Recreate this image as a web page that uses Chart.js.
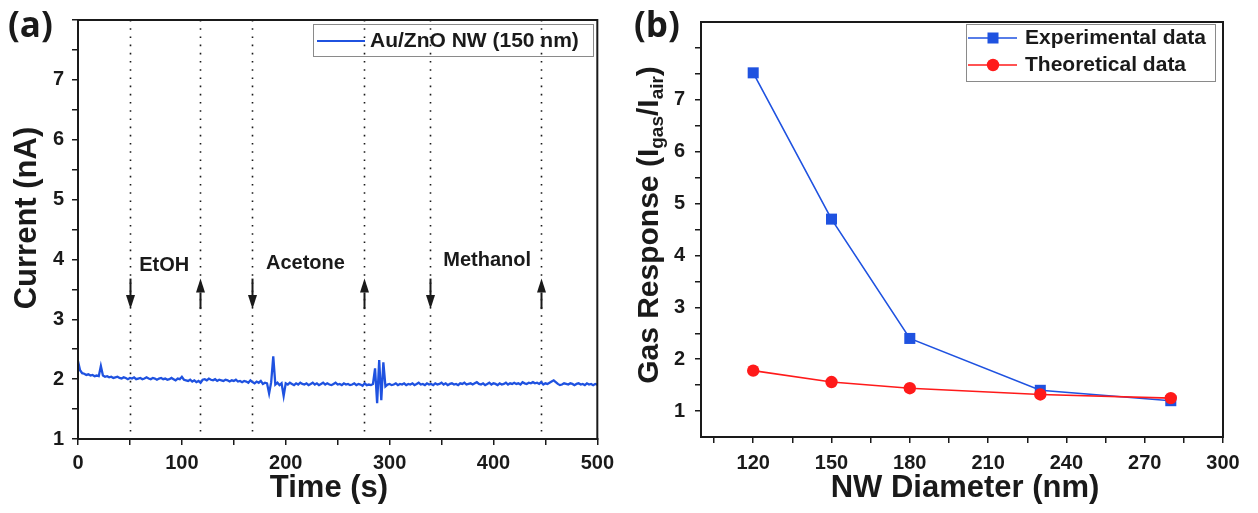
<!DOCTYPE html>
<html>
<head>
<meta charset="utf-8">
<title>Au/ZnO NW gas response</title>
<script src="https://cdn.jsdelivr.net/npm/chart.js@4.4.1/dist/chart.umd.min.js"></script>
<style>
  html, body { margin: 0; padding: 0; background: #fff; }
  #wrap { position: relative; width: 1258px; height: 513px; }
  canvas { position: absolute; top: 0; }
  #chart-a { left: 0; }
  #chart-b { left: 620px; }
</style>
</head>
<body>
<div id="wrap">
  <canvas id="chart-a" width="620" height="513"></canvas>
  <canvas id="chart-b" width="638" height="513"></canvas>
</div>
<script>
/* ---- Data: panel (a) ---- */
const sampleStepS = 2; // one reading every 2 s, 0..500 s
const currentNA = [
  2.30, 2.15, 2.10, 2.09, 2.07, 2.08, 2.06, 2.07, 2.05, 2.06,
  2.05, 2.22, 2.06, 2.04, 2.05, 2.03, 2.04, 2.02, 2.03, 2.04,
  2.02, 2.01, 2.03, 2.02, 2.00, 2.02, 2.01, 2.03, 2.00, 2.01,
  2.02, 2.00, 2.01, 2.03, 2.01, 2.00, 2.02, 2.01, 1.99, 2.01,
  2.02, 2.00, 2.01, 1.99, 2.00, 2.02, 2.00, 1.98, 2.01, 2.00,
  2.04, 1.99, 1.98, 1.97, 1.99, 1.96, 1.98, 1.95, 1.97, 1.94,
  1.99, 2.00, 1.98, 2.01, 1.99, 1.98, 2.00, 1.97, 1.99, 1.98,
  1.97, 1.99, 1.98, 1.96, 1.98, 1.97, 1.99, 1.96, 1.97, 1.95,
  1.97, 1.96, 1.94, 1.98, 1.95, 1.93, 1.96, 1.94, 1.97, 1.92,
  1.94, 1.93, 1.76, 1.95, 2.38, 1.91, 1.94, 1.90, 1.93, 1.72,
  1.93, 1.91, 1.94, 1.92, 1.90, 1.93, 1.91, 1.94, 1.92, 1.91,
  1.93, 1.90, 1.92, 1.94, 1.91, 1.93, 1.90, 1.92, 1.94, 1.91,
  1.93, 1.91, 1.90, 1.92, 1.94, 1.91, 1.92, 1.90, 1.93, 1.91,
  1.92, 1.90, 1.91, 1.93, 1.90, 1.92, 1.91, 1.89, 1.93, 1.90,
  1.91, 1.90, 1.92, 2.18, 1.60, 2.32, 1.65, 2.28, 1.88, 1.91,
  1.92, 1.90, 1.91, 1.93, 1.90, 1.92, 1.91, 1.93, 1.90, 1.92,
  1.91, 1.93, 1.90, 1.92, 1.94, 1.91, 1.92, 1.90, 1.93, 1.91,
  1.92, 1.90, 1.93, 1.91, 1.92, 1.94, 1.91, 1.93, 1.90, 1.92,
  1.93, 1.91, 1.92, 1.90, 1.93, 1.92, 1.94, 1.91, 1.92, 1.93,
  1.91, 1.93, 1.95, 1.92, 1.91, 1.93, 1.90, 1.92, 1.94, 1.91,
  1.93, 1.92, 1.90, 1.93, 1.91, 1.92, 1.94, 1.91, 1.93, 1.92,
  1.94, 1.92, 1.93, 1.91, 1.95, 1.93, 1.92, 1.94, 1.93, 1.95,
  1.93, 1.94, 1.92, 1.95, 1.91, 1.93, 1.92, 1.94, 1.96, 1.98,
  1.95, 1.92, 1.90, 1.91, 1.93, 1.92, 1.91, 1.93, 1.92, 1.90,
  1.92, 1.93, 1.91, 1.92, 1.90, 1.93, 1.91, 1.92, 1.90, 1.92,
  1.91
];
const eventTimes  = [50, 117, 168, 275, 339, 446];       // dotted markers (s)
const eventArrows = ['down', 'up', 'down', 'up', 'down', 'up'];
const gasNames    = ['EtOH', 'Acetone', 'Methanol'];
const xTicksA     = [0, 50, 100, 150, 200, 250, 300, 350, 400, 450, 500];
const yTicksA     = [1, 1.5, 2, 2.5, 3, 3.5, 4, 4.5, 5, 5.5, 6, 6.5, 7, 7.5, 8];
const seriesNameA = 'Au/ZnO NW (150 nm)';

/* ---- Data: panel (b) ---- */
const diametersNm  = [120, 150, 180, 230, 280];
const experimental = [7.52, 4.70, 2.40, 1.40, 1.20];
const theoretical  = [1.78, 1.56, 1.44, 1.32, 1.25];
const xTicksB      = [105, 120, 135, 150, 165, 180, 195, 210, 225, 240, 255, 270, 285, 300];
const xLabelsB     = [120, 150, 180, 210, 240, 270, 300];
const yTicksB      = [1, 1.5, 2, 2.5, 3, 3.5, 4, 4.5, 5, 5.5, 6, 6.5, 7, 7.5, 8];

/* ---- Styles ---- */
const INK   = '#1a1a1a';
const BLUE  = '#1f52e0';
const RED   = '#ff1a1a';
const FONT  = '"Liberation Sans", Arial, sans-serif';
const tickFont = { family: FONT, size: 20, weight: 'bold' };

// where the gas names sit, in data units of panel (a)
const gasLabelPos = [{ x: 83, y: 3.90 }, { x: 219, y: 3.93 }, { x: 394, y: 3.98 }];
const arrowSpan   = { top: 3.68, bottom: 3.17 };

function tickAxis(extra) {
  return Object.assign({
    grid:   { display: true, drawOnChartArea: false, drawTicks: true, tickLength: 6, color: INK, lineWidth: 1.5 },
    border: { display: true, color: INK, width: 2 },
    title:  { display: false },
  }, extra);
}

function drawFrame(ctx, a) {
  ctx.save();
  ctx.strokeStyle = INK;
  ctx.lineWidth = 2;
  ctx.strokeRect(a.left, a.top, a.right - a.left, a.bottom - a.top);
  ctx.restore();
}

function drawArrow(ctx, x, yFrom, yTo) {
  const dir = yTo > yFrom ? 1 : -1;
  const head = 14, half = 4.5;
  ctx.beginPath();
  ctx.moveTo(x, yFrom);
  ctx.lineTo(x, yTo - dir * head);
  ctx.stroke();
  ctx.beginPath();
  ctx.moveTo(x, yTo);
  ctx.lineTo(x - half, yTo - dir * head);
  ctx.lineTo(x + half, yTo - dir * head);
  ctx.closePath();
  ctx.fill();
}

/* ---- Panel (a) decorations ---- */
const decorA = {
  id: 'decorA',
  beforeDatasetsDraw(chart) {
    const { ctx, chartArea: a, scales: { x } } = chart;
    ctx.save();
    ctx.strokeStyle = INK;
    ctx.lineWidth = 1.6;
    ctx.setLineDash([1.6, 6.6]);
    eventTimes.forEach(t => {
      const px = Math.round(x.getPixelForValue(t)) + 0.5;
      ctx.beginPath();
      ctx.moveTo(px, a.top);
      ctx.lineTo(px, a.bottom);
      ctx.stroke();
    });
    ctx.restore();
  },
  afterDatasetsDraw(chart) {
    const { ctx, chartArea: a, scales: { x, y } } = chart;
    drawFrame(ctx, a);
    ctx.save();
    // arrows
    ctx.strokeStyle = INK;
    ctx.fillStyle = INK;
    ctx.lineWidth = 2;
    eventTimes.forEach((t, i) => {
      const px = Math.round(x.getPixelForValue(t)) + 0.5;
      const yt = y.getPixelForValue(arrowSpan.top);
      const yb = y.getPixelForValue(arrowSpan.bottom);
      if (eventArrows[i] === 'down') drawArrow(ctx, px, yt, yb);
      else drawArrow(ctx, px, yb, yt);
    });
    // gas names
    ctx.font = `bold 20px ${FONT}`;
    ctx.textAlign = 'center';
    ctx.textBaseline = 'middle';
    gasNames.forEach((g, i) => {
      ctx.fillText(g, x.getPixelForValue(gasLabelPos[i].x), y.getPixelForValue(gasLabelPos[i].y));
    });
    // legend box
    ctx.strokeStyle = '#8a8a8a';
    ctx.lineWidth = 1;
    ctx.strokeRect(313.5, 24.5, 280, 32);
    ctx.strokeStyle = BLUE;
    ctx.lineWidth = 2;
    ctx.beginPath();
    ctx.moveTo(317, 41);
    ctx.lineTo(365, 41);
    ctx.stroke();
    ctx.fillStyle = INK;
    ctx.textAlign = 'left';
    ctx.font = `bold 21px ${FONT}`;
    ctx.fillText(seriesNameA, 370, 41);
    // axis titles
    ctx.font = `bold 31px ${FONT}`;
    ctx.textAlign = 'center';
    ctx.fillText('Time (s)', 329, 488);
    ctx.save();
    ctx.translate(27, 218);
    ctx.rotate(-Math.PI / 2);
    ctx.fillText('Current (nA)', 0, 0);
    ctx.restore();
    // panel letter
    ctx.font = `bold 35px "Open Sans", ${FONT}`;
    ctx.textAlign = 'left';
    ctx.fillText('(a)', 8, 27);
    ctx.restore();
  }
};

/* ---- Panel (b) decorations ---- */
function drawRunsVertical(ctx, runs, cx, cy) {
  // runs: [text, size, shift] drawn along a -90deg rotated baseline
  ctx.save();
  ctx.translate(cx, cy);
  ctx.rotate(-Math.PI / 2);
  ctx.textAlign = 'left';
  ctx.textBaseline = 'middle';
  let total = 0;
  runs.forEach(r => { ctx.font = `bold ${r[1]}px ${FONT}`; total += ctx.measureText(r[0]).width; });
  let pos = -total / 2;
  runs.forEach(r => {
    ctx.font = `bold ${r[1]}px ${FONT}`;
    ctx.fillText(r[0], pos, r[2]);
    pos += ctx.measureText(r[0]).width;
  });
  ctx.restore();
}

const decorB = {
  id: 'decorB',
  afterDatasetsDraw(chart) {
    const { ctx, chartArea: a } = chart;
    drawFrame(ctx, a);
    ctx.save();
    // legend
    ctx.strokeStyle = '#8a8a8a';
    ctx.lineWidth = 1;
    ctx.strokeRect(346.5, 24.5, 249, 57);
    const rows = [
      { label: 'Experimental data', color: BLUE, style: 'rect', y: 38 },
      { label: 'Theoretical data',  color: RED,  style: 'circle', y: 65 },
    ];
    rows.forEach(r => {
      ctx.strokeStyle = r.color;
      ctx.lineWidth = 1.6;
      ctx.beginPath();
      ctx.moveTo(348, r.y);
      ctx.lineTo(397, r.y);
      ctx.stroke();
      ctx.fillStyle = r.color;
      if (r.style === 'rect') ctx.fillRect(373 - 5.5, r.y - 5.5, 11, 11);
      else { ctx.beginPath(); ctx.arc(373, r.y, 6.2, 0, Math.PI * 2); ctx.fill(); }
      ctx.fillStyle = INK;
      ctx.font = `bold 21px ${FONT}`;
      ctx.textAlign = 'left';
      ctx.textBaseline = 'middle';
      ctx.fillText(r.label, 405, r.y);
    });
    // axis titles
    ctx.font = `bold 31px ${FONT}`;
    ctx.textAlign = 'center';
    ctx.textBaseline = 'middle';
    ctx.fillText('NW Diameter (nm)', 345, 488);
    drawRunsVertical(ctx, [
      ['Gas Response (I', 30, 0],
      ['gas', 19, 8],
      ['/I', 30, 0],
      ['air', 19, 8],
      [')', 30, 0],
    ], 30, 225);
    // panel letter
    ctx.font = `bold 35px "Open Sans", ${FONT}`;
    ctx.textAlign = 'left';
    ctx.fillText('(b)', 14, 27);
    ctx.restore();
  }
};

Chart.defaults.font.family = FONT;
Chart.defaults.color = INK;

/* ---- Chart (a) ---- */
new Chart(document.getElementById('chart-a'), {
  type: 'line',
  data: {
    datasets: [{
      label: seriesNameA,
      data: currentNA.map((v, i) => ({ x: i * sampleStepS, y: v })),
      borderColor: BLUE,
      borderWidth: 2.3,
      pointRadius: 0,
      tension: 0,
    }],
  },
  options: {
    responsive: false,
    animation: false,
    devicePixelRatio: 1,
    layout: { padding: { top: 16, right: 19, left: 0, bottom: 0 } },
    plugins: { legend: { display: false }, tooltip: { enabled: false } },
    scales: {
      x: tickAxis({
        type: 'linear', min: 0, max: 500,
        afterBuildTicks: s => { s.ticks = xTicksA.map(v => ({ value: v })); },
        afterFit: s => { s.height = 74; },
        ticks: { autoSkip: false, maxRotation: 0, padding: 6, font: tickFont, color: INK,
                 callback: v => (v % 100 === 0 ? String(v) : '') },
      }),
      y: tickAxis({
        type: 'linear', min: 1, max: 8,
        afterBuildTicks: s => { s.ticks = yTicksA.map(v => ({ value: v })); },
        afterFit: s => { s.width = 78; },
        ticks: { autoSkip: false, padding: 8, font: tickFont, color: INK,
                 callback: v => (Number.isInteger(v) && v < 8 ? String(v) : '') },
      }),
    },
  },
  plugins: [decorA],
});

/* ---- Chart (b) ---- */
new Chart(document.getElementById('chart-b'), {
  type: 'line',
  data: {
    datasets: [
      {
        label: 'Experimental data',
        data: diametersNm.map((d, i) => ({ x: d, y: experimental[i] })),
        borderColor: BLUE, backgroundColor: BLUE,
        borderWidth: 1.6, pointStyle: 'rect', pointRadius: 7.8, pointBorderWidth: 0,
        tension: 0, order: 1,
      },
      {
        label: 'Theoretical data',
        data: diametersNm.map((d, i) => ({ x: d, y: theoretical[i] })),
        borderColor: RED, backgroundColor: RED,
        borderWidth: 1.6, pointStyle: 'circle', pointRadius: 6.2, pointBorderWidth: 0,
        tension: 0, order: 0,
      },
    ],
  },
  options: {
    responsive: false,
    animation: false,
    devicePixelRatio: 1,
    layout: { padding: { top: 15, right: 35, left: 0, bottom: 0 } },
    plugins: { legend: { display: false }, tooltip: { enabled: false } },
    scales: {
      x: tickAxis({
        type: 'linear', min: 100, max: 300,
        afterBuildTicks: s => { s.ticks = xTicksB.map(v => ({ value: v })); },
        afterFit: s => { s.height = 76; },
        ticks: { autoSkip: false, maxRotation: 0, padding: 8, font: tickFont, color: INK,
                 callback: v => (xLabelsB.includes(v) ? String(v) : '') },
      }),
      y: tickAxis({
        type: 'linear', min: 0.5, max: 8.5,
        afterBuildTicks: s => { s.ticks = yTicksB.map(v => ({ value: v })); },
        afterFit: s => { s.width = 81; },
        ticks: { autoSkip: false, padding: 10, font: tickFont, color: INK,
                 callback: v => (Number.isInteger(v) && v < 8 ? String(v) : '') },
      }),
    },
  },
  plugins: [decorB],
});
</script>
</body>
</html>
